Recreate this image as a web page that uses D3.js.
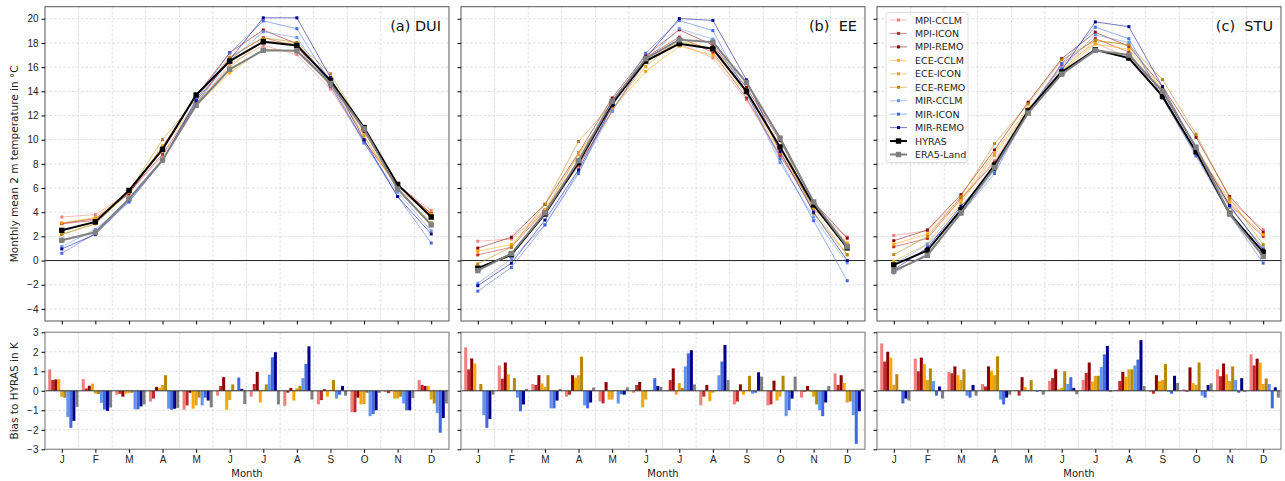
<!DOCTYPE html>
<html>
<head>
<meta charset="utf-8">
<script src="https://cdn.jsdelivr.net/npm/d3@7"></script>
<style>
  body { margin: 0; background: #fff; }
  svg { font-family: 'DejaVu Sans', sans-serif; }
  .grid line { stroke: #d4d4d4; stroke-dasharray: 2.5,2; stroke-width: 0.8; }
  .tick text { font-size: 10px; fill: #222; }
</style>
</head>
<body>
<svg id="canvas" width="1285" height="481"></svg>
<script>
'use strict';

/* month labels and series */
const months = ['J', 'F', 'M', 'A', 'M', 'J', 'J', 'A', 'S', 'O', 'N', 'D'];
const seriesNames = ['MPI-CCLM', 'MPI-ICON', 'MPI-REMO', 'ECE-CCLM', 'ECE-ICON', 'ECE-REMO',
  'MIR-CCLM', 'MIR-ICON', 'MIR-REMO', 'ERA5-Land'];
const seriesColors = ['#f08080', '#c0282a', '#8b0000', '#ffa500', '#daa520', '#b8860b',
  '#6495ed', '#4169e1', '#00008b', '#808080'];
const panelTitles = ['(a) DUI', '(b)\u00a0 EE', '(c)\u00a0 STU'];

/* HYRAS monthly mean 2 m temperature (°C) */
const hyrasDUI = [2.5, 3.2, 5.8, 9.2, 13.7, 16.5, 18.1, 17.8, 14.9, 11.0, 6.3, 3.6];
const hyrasEE = [-0.63, 0.48, 3.85, 8.1, 13.0, 16.5, 17.94, 17.52, 14.0, 9.4, 4.6, 1.05];
const hyrasSTU = [-0.36, 0.83, 4.2, 7.9, 12.4, 15.6, 17.44, 16.75, 13.6, 9.0, 3.9, 0.69];

/* bias to HYRAS (K), one row per series in seriesNames order */
const biasDUI = [
  [1.1, 0.6, -0.2, -0.55, -0.97, -0.25, -0.3, -0.77, -0.7, -1.1, -0.05, 0.55],
  [0.55, 0.12, -0.15, -0.4, -0.75, 0.25, 0.35, -0.1, -0.48, -1.1, -0.12, 0.3],
  [0.58, 0.26, -0.3, 0.2, -0.1, 0.7, 0.97, 0.14, 0.08, -0.35, 0.02, 0.25],
  [0.6, 0.37, -0.15, 0.15, -0.92, -0.97, -0.6, -0.5, -0.3, -0.7, -0.4, 0.25],
  [-0.31, -0.14, -0.12, 0.3, -0.75, -0.48, 0.05, 0.13, 0.05, -0.68, -0.4, -0.45],
  [-0.36, -0.17, -0.1, 0.8, -0.35, 0.33, 0.33, 0.25, 0.55, -0.1, -0.3, -0.65],
  [-1.34, -0.62, -0.95, -0.92, -0.75, 0.02, 0.83, 0.65, -0.4, -1.3, -0.65, -1.15],
  [-1.9, -0.96, -0.95, -0.97, -0.35, 0.68, 1.72, 1.38, -0.2, -1.2, -1.0, -2.15],
  [-1.54, -1.03, -0.8, -0.92, -0.5, 0.1, 1.98, 2.28, 0.25, -1.0, -1.0, -1.4],
  [-0.82, -0.86, -0.7, -0.88, -0.85, -0.68, -0.7, -0.45, -0.25, -0.1, -0.38, -0.65]
];
const biasEE = [
  [2.23, 1.3, 0.35, -0.3, -0.55, -0.1, -0.02, -0.75, -0.7, -0.75, -0.35, 0.9],
  [1.1, 0.62, 0.3, -0.2, -0.65, 0.3, 0.55, -0.3, -0.55, -0.7, -0.05, 0.3],
  [1.66, 1.45, 0.8, 0.8, 0.45, 0.45, 1.15, 0.3, 0.33, 0.52, 0.25, 0.8],
  [1.4, 0.85, 0.38, 0.67, -0.45, -0.85, -0.2, -0.53, -0.2, -0.5, -0.05, 0.4],
  [0.02, 0.03, 0.2, 0.8, -0.45, -0.45, 0.4, -0.1, 0.02, -0.3, -0.3, -0.6],
  [0.35, 0.65, 0.8, 1.75, 0.02, 0.03, 0.15, 0.02, 0.77, 0.77, -0.7, -0.55],
  [-1.25, -0.35, -0.9, -0.75, -0.65, 0.05, 1.25, 0.8, -0.15, -1.3, -1.0, -1.25],
  [-1.9, -1.05, -0.9, -0.9, -0.18, 0.65, 1.92, 1.5, -0.1, -1.0, -1.3, -2.72],
  [-1.45, -0.7, -0.5, -0.6, -0.2, 0.25, 2.08, 2.35, 0.95, -0.4, -0.6, -1.05],
  [-0.2, 0.1, 0.1, 0.17, 0.18, 0.2, 0.33, 0.55, 0.73, 0.73, 0.25, 0.1]
];
const biasSTU = [
  [2.43, 1.65, 0.97, 0.35, 0.02, 0.5, 0.55, 0.05, -0.05, 0.08, 1.1, 1.87],
  [1.5, 1.0, 0.9, 0.22, -0.25, 0.65, 0.92, 0.5, -0.15, -0.05, 0.75, 1.3],
  [2.0, 1.7, 1.25, 1.25, 0.7, 1.1, 1.45, 0.97, 0.8, 1.2, 1.4, 1.65],
  [1.7, 1.37, 0.8, 1.03, 0.2, 0.08, 0.47, 0.72, 0.5, 0.4, 0.85, 1.45],
  [0.3, 0.55, 0.55, 0.8, 0.02, 0.15, 0.77, 1.1, 0.55, 0.3, 0.5, 0.35],
  [0.85, 1.15, 1.1, 1.77, 0.55, 1.0, 0.77, 1.1, 1.37, 1.45, 1.25, 0.63],
  [0.05, 0.5, -0.25, -0.45, 0.02, 0.35, 1.22, 1.3, -0.05, -0.25, 0.55, 0.35],
  [-0.65, -0.25, -0.35, -0.7, -0.05, 0.7, 1.87, 1.6, -0.15, -0.35, -0.1, -0.9],
  [-0.4, 0.22, 0.3, -0.35, 0.02, 0.15, 2.3, 2.6, 0.77, 0.3, 0.65, 0.18],
  [-0.5, -0.4, -0.25, -0.2, -0.2, -0.18, -0.05, 0.25, 0.4, 0.38, -0.05, -0.35]
];

const tempTicks = [-4, -2, 0, 2, 4, 6, 8, 10, 12, 14, 16, 18, 20];
const biasTicks = [-3, -2, -1, 0, 1, 2, 3];

/* layout */
const panelLeft = [45, 461, 877];
const panelWidth = 404;
const topY = [6.7, 321];
const botY = [332.3, 449.3];
const barW = 0.09;

const svg = d3.select('#canvas');

const panels = [
  {title: panelTitles[0], hyras: hyrasDUI, bias: biasDUI},
  {title: panelTitles[1], hyras: hyrasEE, bias: biasEE},
  {title: panelTitles[2], hyras: hyrasSTU, bias: biasSTU}
];

panels.forEach(function(p, pi){
  let x = d3.scaleLinear().domain([-0.5, 11.53]).range([panelLeft[pi], panelLeft[pi] + panelWidth]);
  let y = d3.scaleLinear().domain([-5, 21]).range([topY[1], topY[0]]);
  let yb = d3.scaleLinear().domain([-3, 3]).range([botY[1], botY[0]]);
  let idx = d3.range(12);

  /* ---------- top panel ---------- */
  let g = svg.append('g');
  let grid = g.append('g').attr('class', 'grid');
  grid.selectAll('line.h').data(tempTicks).enter().append('line')
    .attr('x1', x.range()[0]).attr('x2', x.range()[1])
    .attr('y1', d => y(d)).attr('y2', d => y(d));
  grid.selectAll('line.v').data(d3.range(11)).enter().append('line')
    .attr('x1', d => x(d + 0.5)).attr('x2', d => x(d + 0.5))
    .attr('y1', topY[0]).attr('y2', topY[1]);

  g.append('line')
    .attr('x1', x.range()[0]).attr('x2', x.range()[1])
    .attr('y1', y(0)).attr('y2', y(0))
    .attr('stroke', '#222').attr('stroke-width', 1);

  let line = d3.line().x((d, i) => x(i)).y(d => y(d));

  /* model lines */
  for (let s = 0; s < 9; ++s) {
    let vals = p.hyras.map((h, i) => h + p.bias[s][i]);
    g.append('path').attr('d', line(vals))
      .attr('fill', 'none').attr('stroke', seriesColors[s])
      .attr('stroke-width', 0.9).attr('stroke-opacity', 0.6);
    g.selectAll(null).data(vals).enter().append('rect')
      .attr('x', (d, i) => x(i) - 1.5).attr('y', d => y(d) - 1.5)
      .attr('width', 3).attr('height', 3)
      .attr('fill', seriesColors[s]);
  }
  /* HYRAS and ERA5-Land */
  let era = p.hyras.map((h, i) => h + p.bias[9][i]);
  [[p.hyras, '#000000'], [era, '#808080']].forEach(function(o){
    g.append('path').attr('d', line(o[0]))
      .attr('fill', 'none').attr('stroke', o[1]).attr('stroke-width', 2);
    g.selectAll(null).data(o[0]).enter().append('rect')
      .attr('x', (d, i) => x(i) - 2.7).attr('y', d => y(d) - 2.7)
      .attr('width', 5.4).attr('height', 5.4).attr('fill', o[1]);
  });

  g.append('rect')
    .attr('x', x.range()[0]).attr('y', topY[0])
    .attr('width', panelWidth).attr('height', topY[1] - topY[0])
    .attr('fill', 'none').attr('stroke', '#555').attr('stroke-width', 1);

  let yAxis = d3.axisLeft(y).tickValues(tempTicks).tickSize(3.5).tickPadding(3)
    .tickFormat(pi === 0 ? (d => d < 0 ? '\u2212' + Math.abs(d) : d) : '');
  g.append('g').attr('transform', 'translate(' + x.range()[0] + ',0)').call(yAxis)
    .call(a => a.select('.domain').remove());
  let xAxisTop = d3.axisBottom(x).tickValues(idx).tickSize(3.5).tickFormat('');
  g.append('g').attr('transform', 'translate(0,' + topY[1] + ')').call(xAxisTop)
    .call(a => a.select('.domain').remove());

  g.append('text')
    .attr('x', x.range()[1] - 8).attr('y', 31)
    .attr('text-anchor', 'end').attr('font-size', 14.5).attr('fill', '#111')
    .text(p.title);

  /* ---------- bottom panel ---------- */
  let b = svg.append('g');
  let bgrid = b.append('g').attr('class', 'grid');
  bgrid.selectAll('line.h').data([-2, -1, 1, 2]).enter().append('line')
    .attr('x1', x.range()[0]).attr('x2', x.range()[1])
    .attr('y1', d => yb(d)).attr('y2', d => yb(d));
  bgrid.selectAll('line.v').data(d3.range(11)).enter().append('line')
    .attr('x1', d => x(d + 0.5)).attr('x2', d => x(d + 0.5))
    .attr('y1', botY[0]).attr('y2', botY[1]);

  let bw = x(barW) - x(0);
  p.bias.forEach(function(row, s){
    b.selectAll(null).data(row).enter().append('rect')
      .attr('x', (d, i) => x(i + (s - 4) * barW) - bw / 2)
      .attr('y', d => yb(Math.max(0, d)))
      .attr('width', bw)
      .attr('height', d => Math.abs(yb(d) - yb(0)))
      .attr('fill', seriesColors[s]);
  });

  b.append('line')
    .attr('x1', x.range()[0]).attr('x2', x.range()[1])
    .attr('y1', yb(0)).attr('y2', yb(0))
    .attr('stroke', '#333').attr('stroke-width', 1);

  b.append('rect')
    .attr('x', x.range()[0]).attr('y', botY[0])
    .attr('width', panelWidth).attr('height', botY[1] - botY[0])
    .attr('fill', 'none').attr('stroke', '#999').attr('stroke-width', 1.4);

  let ybAxis = d3.axisLeft(yb).tickValues(biasTicks).tickSize(3.5).tickPadding(3)
    .tickFormat(pi === 0 ? (d => d < 0 ? '\u2212' + Math.abs(d) : d) : '');
  b.append('g').attr('transform', 'translate(' + x.range()[0] + ',0)').call(ybAxis)
    .call(a => a.select('.domain').remove());
  let xAxis = d3.axisBottom(x).tickValues(idx).tickSize(3.5).tickPadding(3)
    .tickFormat(i => months[i]);
  b.append('g').attr('transform', 'translate(0,' + botY[1] + ')').call(xAxis)
    .call(a => a.select('.domain').remove());

  b.append('text')
    .attr('x', (x.range()[0] + x.range()[1]) / 2).attr('y', 477)
    .attr('text-anchor', 'middle').attr('font-size', 10).attr('fill', '#222')
    .text('Month');
});

/* axis labels */
svg.append('text')
  .attr('transform', 'translate(18,' + ((topY[0] + topY[1]) / 2) + ') rotate(-90)')
  .attr('text-anchor', 'middle').attr('font-size', 10.5).attr('fill', '#222')
  .text('Monthly mean 2 m temperature in \u00b0C');
svg.append('text')
  .attr('transform', 'translate(18,' + ((botY[0] + botY[1]) / 2) + ') rotate(-90)')
  .attr('text-anchor', 'middle').attr('font-size', 10.5).attr('fill', '#222')
  .text('Bias to HYRAS in K');

/* legend in panel (c) */
const legendNames = seriesNames.slice(0, 9).concat(['HYRAS', 'ERA5-Land']);
const legendColors = seriesColors.slice(0, 9).concat(['#000000', '#808080']);
let lg = svg.append('g').attr('transform', 'translate(886,12.5)');
lg.append('rect')
  .attr('width', 82).attr('height', 150).attr('rx', 3)
  .attr('fill', '#fff').attr('fill-opacity', 0.85)
  .attr('stroke', '#ddd').attr('stroke-width', 1);
legendNames.forEach(function(n, i){
  let yy = 7.5 + i * 13.45;
  let thick = i >= 9;
  lg.append('line')
    .attr('x1', 4).attr('x2', 21).attr('y1', yy).attr('y2', yy)
    .attr('stroke', legendColors[i])
    .attr('stroke-width', thick ? 2 : 0.9)
    .attr('stroke-opacity', thick ? 1 : 0.6);
  let ms = thick ? 5.4 : 3;
  lg.append('rect')
    .attr('x', 12.5 - ms / 2).attr('y', yy - ms / 2)
    .attr('width', ms).attr('height', ms).attr('fill', legendColors[i]);
  lg.append('text')
    .attr('x', 29).attr('y', yy + 3.5)
    .attr('font-size', 9.5).attr('fill', '#222')
    .text(n);
});
</script>
</body>
</html>
